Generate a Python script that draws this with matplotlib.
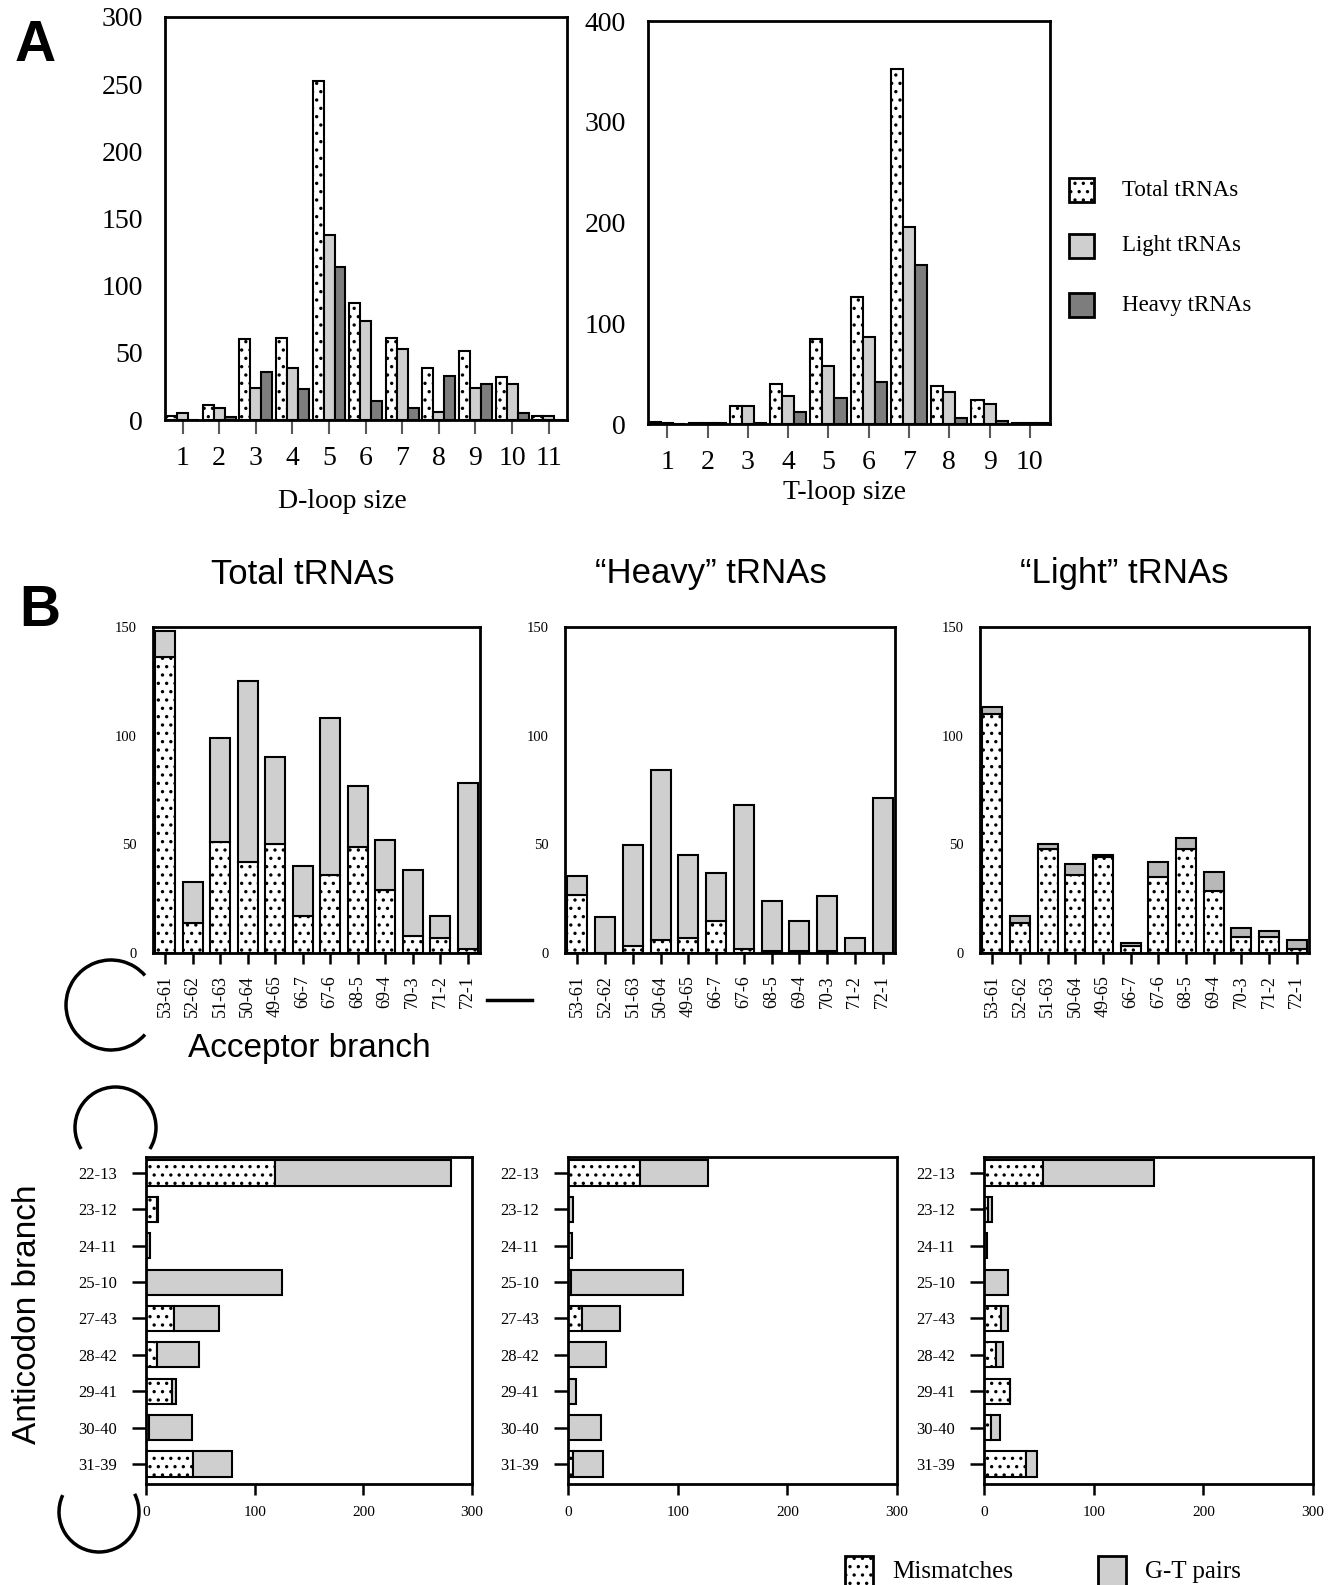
import matplotlib.pyplot as plt
import numpy as np
from matplotlib.patches import Rectangle, Arc

W, H = 1328, 1585

# Panel A: loop size distributions
d_sizes = np.arange(1, 12)
d_total = [3, 11, 60, 61, 252, 87, 61, 39, 51, 32, 3]
d_light = [5, 9, 24, 39, 138, 74, 53, 6, 24, 27, 3]
d_heavy = [0, 2, 36, 23, 114, 14, 9, 33, 27, 5, 0]

t_sizes = np.arange(1, 11)
t_total = [2, 1, 18, 40, 84, 126, 352, 38, 24, 1]
t_light = [1, 1, 18, 28, 58, 86, 196, 32, 20, 1]
t_heavy = [0, 0.5, 1, 12, 26, 42, 158, 6, 3, 1]

# Panel B: acceptor branch (mismatches / G-T pairs)
acc_labels = ['53-61', '52-62', '51-63', '50-64', '49-65', '66-7',
              '67-6', '68-5', '69-4', '70-3', '71-2', '72-1']
acc_total_mm = [136, 14, 51, 42, 50, 17, 36, 49, 29, 8, 7, 2]
acc_total_gt = [12, 18.5, 48, 83, 40, 23, 72, 28, 23, 30, 10, 76]
acc_heavy_mm = [26.5, 0, 3, 6, 7, 14.5, 2, 1, 1, 1, 0, 0]
acc_heavy_gt = [9, 16.5, 46.5, 78, 38, 22.5, 66, 23, 13.5, 25, 7, 71.5]
acc_light_mm = [110, 14, 48, 36, 44, 3, 35, 48, 28.5, 7.5, 7.5, 2]
acc_light_gt = [3, 3, 2, 5, 1, 1.5, 7, 5, 9, 4, 2.5, 4]

# Panel B: anticodon branch
ant_labels = ['22-13', '23-12', '24-11', '25-10', '27-43', '28-42',
              '29-41', '30-40', '31-39']
ant_total_mm = [119, 10, 0, 0, 26, 10, 24, 3, 43]
ant_total_gt = [162, 1, 4, 125, 41, 39, 4, 39, 36]
ant_heavy_mm = [66, 0, 0, 3, 12.5, 0, 0, 0, 5]
ant_heavy_gt = [62, 5, 3.5, 102, 35, 34.5, 7, 30, 27]
ant_light_mm = [54, 4, 0, 0, 15.5, 11, 24, 6, 38]
ant_light_gt = [101, 3, 2.5, 22, 6.5, 6, 0, 8.5, 10]

titles = ['Total tRNAs', '\u201cHeavy\u201d tRNAs', '\u201cLight\u201d tRNAs']

LIGHT = '#cfcfcf'
DARK = '#7d7d7d'
GT_LIGHT = '#b8b8b8'
SERIF = 'Liberation Serif'
SANS = 'Liberation Sans'

plt.rcParams['hatch.linewidth'] = 1.2
plt.rcParams['hatch.color'] = 'black'

fig = plt.figure(figsize=(W / 100, H / 100), dpi=100)


def box(l, r, t, b):
    return fig.add_axes([l / W, 1 - b / H, (r - l) / W, (b - t) / H])


def style(ax, lw=2):
    for s in ax.spines.values():
        s.set_linewidth(lw)
        s.set_color('black')


# Panel A
# ----------------------------------------------------------------------------
def loop_panel(ax, sizes, tot, lig, hea, ymax, ystep, xlab, xlab_pos):
    w = 0.3
    ax.bar(sizes - w, tot, w, color='white', edgecolor='black', hatch='..', lw=1.5)
    ax.bar(sizes, lig, w, color=LIGHT, edgecolor='black', lw=1.5)
    ax.bar(sizes + w, hea, w, color=DARK, edgecolor='black', lw=1.5)
    ax.set_xlim(sizes[0] - 0.48, sizes[-1] + 0.5)
    ax.set_ylim(0, ymax)
    ax.set_xticks(sizes)
    ax.set_yticks(np.arange(0, ymax + 1, ystep))
    ax.tick_params(axis='x', direction='out', length=10, width=1.5, color='0.35',
                   pad=9, labelsize=20)
    ax.tick_params(axis='y', length=0, pad=16, labelsize=20)
    for lab in ax.get_xticklabels() + ax.get_yticklabels():
        lab.set_fontfamily(SERIF)
    ax.set_xlabel(xlab, fontfamily=SERIF, fontsize=20)
    ax.xaxis.set_label_coords(*xlab_pos)
    style(ax)


ax = box(165, 567, 17, 420)
loop_panel(ax, d_sizes, d_total, d_light, d_heavy, 300, 50, 'D-loop size',
           (0.44, -0.17))
ax = box(648, 1050, 21, 424)
loop_panel(ax, t_sizes, t_total, t_light, t_heavy, 400, 100, 'T-loop size',
           (0.49, -0.14))

# Panel B, acceptor branch
# ----------------------------------------------------------------------------
acc_sets = [(acc_total_mm, acc_total_gt, LIGHT),
            (acc_heavy_mm, acc_heavy_gt, LIGHT),
            (acc_light_mm, acc_light_gt, GT_LIGHT)]
acc_x = [(153, 480), (565, 895), (980, 1309)]
for (l, r), (mm, gt, gtc) in zip(acc_x, acc_sets):
    ax = box(l, r, 627, 953)
    x = np.arange(len(acc_labels))
    ax.bar(x, mm, 0.72, color='white', edgecolor='black', hatch='..', lw=1.5)
    ax.bar(x, gt, 0.72, bottom=mm, color=gtc, edgecolor='black', lw=1.5)
    ax.set_xlim(-0.45, len(acc_labels) - 0.55)
    ax.set_ylim(0, 150)
    ax.set_yticks([0, 50, 100, 150])
    ax.set_xticks(x)
    ax.set_xticklabels(acc_labels, rotation=90)
    ax.tick_params(axis='x', length=8, width=1.8, pad=8, labelsize=13)
    ax.tick_params(axis='y', length=0, pad=12, labelsize=10.5)
    for lab in ax.get_xticklabels() + ax.get_yticklabels():
        lab.set_fontfamily(SERIF)
    style(ax)

# Panel B, anticodon branch
# ----------------------------------------------------------------------------
ant_sets = [(ant_total_mm, ant_total_gt),
            (ant_heavy_mm, ant_heavy_gt),
            (ant_light_mm, ant_light_gt)]
ant_x = [(146, 472), (568, 897), (984, 1313)]
for (l, r), (mm, gt) in zip(ant_x, ant_sets):
    ax = box(l, r, 1157, 1484)
    y = np.arange(len(ant_labels))
    ax.barh(y, mm, 0.69, color='white', edgecolor='black', hatch='..', lw=1.5)
    ax.barh(y, gt, 0.69, left=mm, color=LIGHT, edgecolor='black', lw=1.5)
    ax.set_ylim(len(ant_labels) - 0.45, -0.44)
    ax.set_xlim(0, 300)
    ax.set_xticks([0, 100, 200, 300])
    ax.set_yticks(y)
    ax.set_yticklabels(ant_labels)
    ax.tick_params(axis='y', length=10, width=1.8, pad=11, labelsize=12)
    ax.tick_params(axis='x', length=8, width=1.8, pad=8, labelsize=11)
    for lab in ax.get_xticklabels() + ax.get_yticklabels():
        lab.set_fontfamily(SERIF)
    style(ax)

# Overlay: panel letters, titles, legends, cloverleaf decorations
# ----------------------------------------------------------------------------
ov = fig.add_axes([0, 0, 1, 1], zorder=10)
ov.set_xlim(0, W)
ov.set_ylim(0, H)
ov.axis('off')
ov.patch.set_alpha(0)


def fy(y):
    return H - y


ov.text(35, fy(46), 'A', fontfamily=SANS, fontweight='bold', fontsize=41,
        ha='center', va='center')
ov.text(40, fy(611), 'B', fontfamily=SANS, fontweight='bold', fontsize=41,
        ha='center', va='center')

for xc, t in zip([303, 711, 1124], titles):
    ov.text(xc, fy(574), t, fontfamily=SANS, fontsize=25, ha='center', va='center')

ov.text(309, fy(1049), 'Acceptor branch', fontfamily=SANS, fontsize=24,
        ha='center', va='center')
ov.text(28, fy(1314), 'Anticodon branch', fontfamily=SANS, fontsize=24,
        ha='center', va='center', rotation=90)

# legend for panel A
leg_a = [('Total tRNAs', 'white', '..'), ('Light tRNAs', LIGHT, None),
         ('Heavy tRNAs', DARK, None)]
for (name, fc, ht), yc in zip(leg_a, [190, 246, 305]):
    ov.add_patch(Rectangle((1069, fy(yc + 12)), 25, 24, facecolor=fc,
                           edgecolor='black', hatch=ht, lw=2))
    ov.text(1122, fy(yc), name, fontfamily=SERIF, fontsize=16.5, va='center')

# legend for panel B
leg_b = [('Mismatches', 'white', '..', 845, 892),
         ('G-T pairs', LIGHT, None, 1098, 1145)]
for name, fc, ht, xp, xt in leg_b:
    ov.add_patch(Rectangle((xp, fy(1595)), 28, 39, facecolor=fc,
                           edgecolor='black', hatch=ht, lw=2))
    ov.text(xt, fy(1572), name, fontfamily=SERIF, fontsize=18, va='center')

# cloverleaf arcs and stem
ov.add_patch(Arc((111, fy(1005)), 90, 90, theta1=41, theta2=319, lw=2.5,
                 color='black'))
ov.add_patch(Arc((115.5, fy(1127.5)), 81, 81, theta1=-32, theta2=212, lw=2.5,
                 color='black'))
ov.add_patch(Arc((99, fy(1512)), 80, 80, theta1=155, theta2=27, lw=2.5,
                 color='black'))
ov.plot([487, 532], [fy(1000), fy(1000)], color='black', lw=2.5)

fig.savefig('out.png', dpi=100)
